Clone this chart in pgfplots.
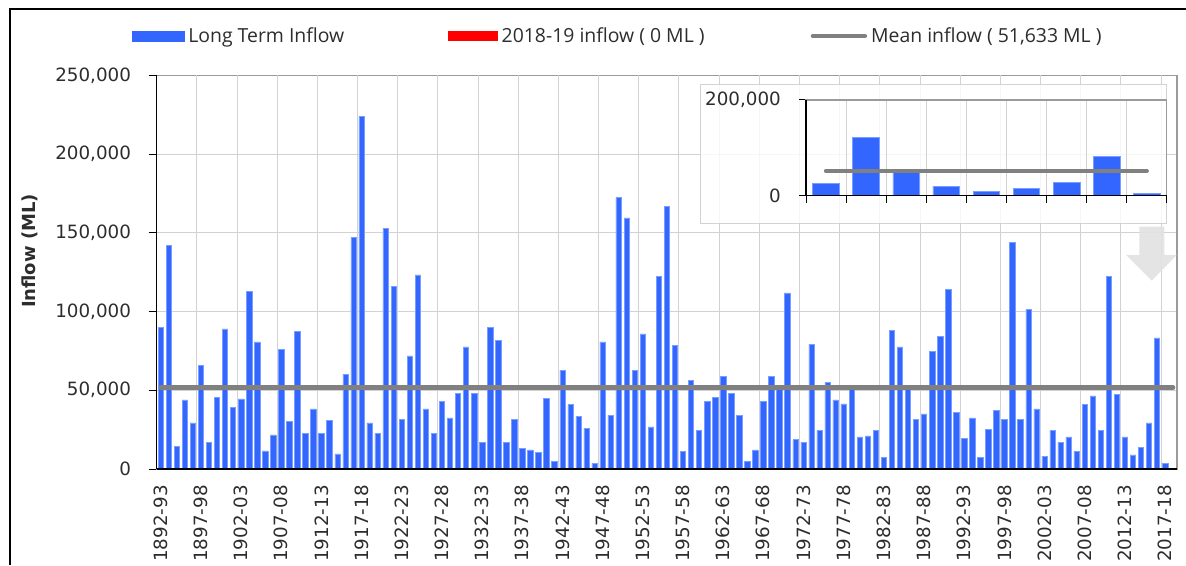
\documentclass[border=0pt]{standalone}
\usepackage{pgfplots}
\usepackage{pgfplotstable}
\pgfplotsset{compat=1.18}
\usepackage{fontspec}
\setmainfont{DejaVu Sans}
\newfontfamily\legfont{Open Sans}
\definecolor{barblue}{RGB}{51,102,255}
\definecolor{baredge}{RGB}{120,158,255}
\definecolor{meangray}{RGB}{128,128,128}
\definecolor{gridgray}{RGB}{210,210,210}
\definecolor{framegray}{RGB}{155,155,155}
\definecolor{arrowgray}{RGB}{226,226,226}
\definecolor{txt}{RGB}{45,45,45}

\pgfplotstableread{
idx val
0 90000
1 142200
2 14400
3 43900
4 29300
5 66000
6 17000
7 45600
8 89000
9 38900
10 44600
11 112700
12 80700
13 11500
14 21700
15 75800
16 30100
17 87300
18 22700
19 38200
20 22700
21 30800
22 9600
23 60300
24 147100
25 224000
26 29300
27 22700
28 152600
29 115900
30 31600
31 71800
32 123300
33 38200
34 22700
35 43100
36 32500
37 48000
38 77500
39 48000
40 17000
41 89800
42 81500
43 17000
44 31600
45 13000
46 12100
47 10400
48 44800
49 4700
50 62800
51 40800
52 33300
53 25900
54 3800
55 80700
56 34200
57 172600
58 159400
59 62800
60 85800
61 26700
62 122500
63 166900
64 78300
65 11300
66 56300
67 24400
68 43100
69 45600
70 58800
71 48000
72 34200
73 4700
74 12100
75 43100
76 58800
77 52000
78 111900
79 18700
80 17000
81 79200
82 24400
83 54800
84 43900
85 41400
86 50500
87 20400
88 21000
89 24400
90 7200
91 88100
92 77500
93 50500
94 31600
95 35000
96 74900
97 84100
98 114200
99 35900
100 19500
101 32500
102 7200
103 25100
104 37400
105 31600
106 143700
107 31600
108 101300
109 38200
110 8100
111 24400
112 17000
113 20400
114 11300
115 40800
116 46500
117 24400
118 122500
119 47300
120 20400
121 8900
122 13800
123 29300
124 83200
125 3800
}\mainflow

\pgfplotstableread{
idx val
1 25100
2 122000
3 50000
4 20200
5 9800
6 15300
7 28600
8 82200
9 4200
}\insetflow

\begin{document}
\begin{tikzpicture}[x=1pt,y=1pt]
\useasboundingbox (0,0) rectangle (1186,565);
\begin{axis}[
  at={(156.7pt,96pt)}, anchor=south west,
  width=1020.4pt, height=393.7pt, scale only axis,
  xmin=-0.5, xmax=126.5, ymin=0, ymax=250000,
  clip=false,
  axis line style={framegray, line width=1.4pt},
  tick pos=left,
  xtick={0,5,...,125},
  xticklabels={1892-93,1897-98,1902-03,1907-08,1912-13,1917-18,1922-23,1927-28,1932-33,1937-38,1942-43,1947-48,1952-53,1957-58,1962-63,1967-68,1972-73,1977-78,1982-83,1987-88,1992-93,1997-98,2002-03,2007-08,2012-13,2017-18},
  xtick style={draw=none},
  extra x ticks={-0.5,4.5,9.5,14.5,19.5,24.5,29.5,34.5,39.5,44.5,49.5,54.5,59.5,64.5,69.5,74.5,79.5,84.5,89.5,94.5,99.5,104.5,109.5,114.5,119.5,124.5},
  extra x tick labels={},
  extra x tick style={xmajorgrids=true, tick style={black, line width=1pt}, xticklabel={}},
  ytick={0,50000,100000,150000,200000,250000},
  yticklabels={0,{50,000},{100,000},{150,000},{200,000},{250,000}},
  ymajorgrids=true,
  major grid style={gridgray, line width=1pt},
  tick align=outside, major tick length=8pt,
  ytick style={black, line width=1pt},
  scaled y ticks=false,
  tick label style={font=\fontsize{18.3}{22}\selectfont, text=txt},
  yticklabel style={anchor=east, inner sep=0pt, xshift=-17.5pt},
  xticklabel style={yshift=-8pt, rotate=90, anchor=east, inner sep=0pt},
  ylabel={Inflow (ML)},
  every axis y label/.style={at={(axis description cs:-0.1242,0.5537)}, rotate=90, anchor=center},
  ylabel style={font=\bfseries\fontsize{18}{20}\selectfont, text=txt},
  legend columns=3,
  legend style={draw=none, fill=none, inner sep=0pt, row sep=0pt,
    at={(axis description cs:-0.0245,1.0998)}, anchor=west,
    font=\legfont\fontsize{19.4}{21}\selectfont, text=txt,
    nodes={inner sep=0pt},
    /tikz/every even column/.append style={column sep=0pt},
    /tikz/every odd column/.append style={column sep=0pt}},
]
\addplot[ybar, bar width=5.4pt, bar shift=0pt, fill=barblue, draw=baredge, line width=0.5pt,
  legend image code/.code={\fill[barblue] (0pt,-5pt) rectangle (52pt,5pt);}]
  table[x=idx, y=val] {\mainflow};
\addlegendentry{\makebox[263.3pt][l]{\hspace{4pt}Long Term Inflow}}
\addplot[ybar, bar width=5.4pt, bar shift=0pt, fill=red, draw=none,
  legend image code/.code={\fill[red] (0pt,-5pt) rectangle (50pt,5pt);}]
  coordinates {(126,0)};
\addlegendentry{\makebox[313pt][l]{\hspace{4pt}2018-19 inflow ( 0 ML )}}
\addplot[meangray, line width=4.5pt, line cap=round,
  legend image code/.code={\draw[meangray, line width=4.5pt] (0pt,0pt) -- (52pt,0pt);}]
  coordinates {(0,51633) (126,51633)};
\addlegendentry{\hspace{4pt}Mean inflow ( 51,633 ML )}
\draw[black, line width=1.3pt] (rel axis cs:0,0) -- (rel axis cs:0,1);
\draw[black, line width=1.3pt] (rel axis cs:0,0) -- (rel axis cs:1,0);
\end{axis}

\filldraw[fill=white, fill opacity=0.8, draw=gridgray, line width=1pt] (700,341) rectangle (1166,480);

\begin{axis}[
  at={(806pt,369.3pt)}, anchor=south west,
  width=360.7pt, height=95.7pt, scale only axis,
  xmin=0.5, xmax=9.5, ymin=0, ymax=200000,
  clip=false,
  axis line style={framegray, line width=1.2pt},
  tick pos=left,
  xtick={0.5,1.5,2.5,3.5,4.5,5.5,6.5,7.5,8.5,9.5},
  xticklabels={},
  xmajorgrids=true, ymajorgrids=true,
  major grid style={gridgray, line width=1pt},
  ytick={0,200000},
  yticklabels={0,{200,000}},
  tick align=outside, major tick length=7pt,
  tick style={black, line width=1pt},
  scaled y ticks=false,
  tick label style={font=\fontsize{18.3}{22}\selectfont, text=txt},
  yticklabel style={anchor=east, inner sep=0pt, xshift=-18pt},
]
\addplot[ybar, bar width=26.7pt, bar shift=0pt, fill=barblue, draw=baredge, line width=0.6pt]
  table[x=idx, y=val] {\insetflow};
\addplot[meangray, line width=4.5pt, line cap=round]
  coordinates {(1,51633) (9,51633)};
\draw[black, line width=1.3pt] (rel axis cs:0,0) -- (rel axis cs:0,1);
\draw[black, line width=1.3pt] (rel axis cs:0,0) -- (rel axis cs:1,0);
\end{axis}

\fill[arrowgray, opacity=0.92] (1139.3,338.3) -- (1164.3,338.3) -- (1164.3,310) -- (1176.7,310)
  -- (1151.7,284.3) -- (1126,310) -- (1139.3,310) -- cycle;
\draw[black, line width=1.3pt] (10,0) -- (10,556) -- (1186,556);
\end{tikzpicture}
\end{document}
